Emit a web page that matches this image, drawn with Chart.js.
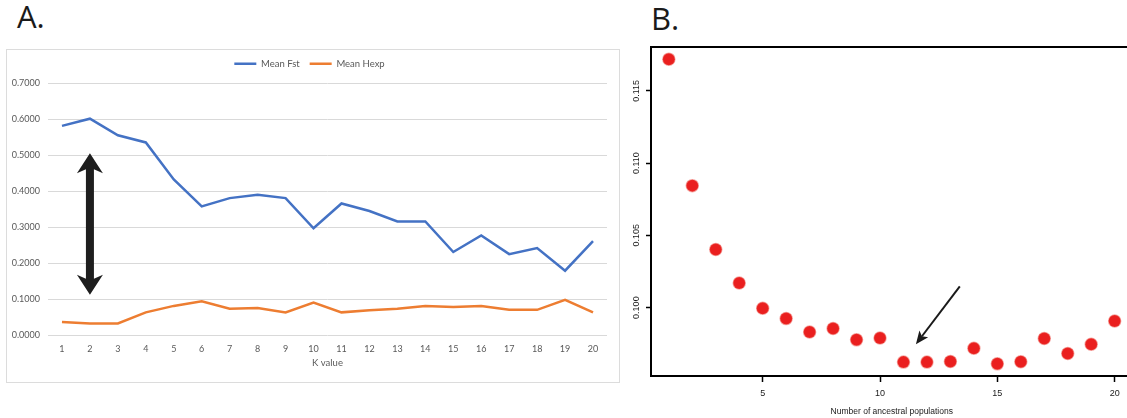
<!DOCTYPE html>
<html>
<head>
<meta charset="utf-8">
<script src="https://cdn.jsdelivr.net/npm/chart.js@4"></script>
<style>
    html, body { margin: 0; padding: 0; background: #fff; width: 1127px; height: 418px; overflow: hidden; }
    .panel-label { position: absolute; font-family: "Open Sans", sans-serif; font-size: 31px; line-height: 1; color: #1a1a1a; }
    #frameA { position: absolute; left: 6px; top: 49px; width: 614px; height: 334px; border: 1px solid #dcdcdc; box-sizing: border-box; }
    #chartA { position: absolute; left: 6px; top: 49px; }
    #chartB { position: absolute; left: 620px; top: 0; }
</style>
</head>
<body>
<div class="panel-label" style="left:17px; top:1px;">A.</div>
<div class="panel-label" style="left:651px; top:3px;">B.</div>
<div id="frameA"></div>
<canvas id="chartA" width="601" height="334"></canvas>
<canvas id="chartB" width="520" height="418"></canvas>

<script>
// Panel A: mean Fst / mean Hexp by K
const kValues = ['1', '2', '3', '4', '5', '6', '7', '8', '9', '10', '11', '12', '13', '14', '15', '16', '17', '18', '19', '20'];
const meanFst = [0.582, 0.602, 0.556, 0.536, 0.433, 0.358, 0.381, 0.390, 0.381, 0.297, 0.366, 0.345, 0.316, 0.316, 0.231, 0.277, 0.225, 0.242, 0.179, 0.261];
const meanHexp = [0.036, 0.032, 0.032, 0.063, 0.081, 0.094, 0.073, 0.075, 0.063, 0.090, 0.063, 0.069, 0.073, 0.081, 0.078, 0.081, 0.070, 0.070, 0.098, 0.063];
const yTicksA = [0, 0.1, 0.2, 0.3, 0.4, 0.5, 0.6, 0.7];
// double arrow drawn at K = 2, between these values
const arrowA = { k: '2', top: 0.506, bottom: 0.112 };

// Panel B: cross-entropy by number of ancestral populations
const populations = [1, 2, 3, 4, 5, 6, 7, 8, 9, 10, 11, 12, 13, 14, 15, 16, 17, 18, 19, 20];
const crossEntropy = [0.11719, 0.10844, 0.10402, 0.10170, 0.09995, 0.09924, 0.09832, 0.09855, 0.09777, 0.09790,
                      0.09623, 0.09623, 0.09628, 0.09719, 0.09611, 0.09625, 0.09786, 0.09683, 0.09747, 0.09908];
const xTicksB = [5, 10, 15, 20];
const yTicksB = [0.100, 0.105, 0.110, 0.115];
// single arrow pointing at K = 11
const arrowB = { fromX: 13.4, fromY: 0.10147, toX: 11.53, toY: 0.09747 };

const excelFont = 'Lato, "Open Sans", sans-serif';
const rFont = '"Liberation Sans", Arial, sans-serif';

// legend sits a little higher above the plot than Chart.js puts it
const legendSpace = {
    id: 'legendSpace',
    beforeInit(chart) {
        if (!chart.legend) return;
        const fit = chart.legend.fit;
        chart.legend.fit = function () {
            fit.call(this);
            this.height += 5;
        };
    }
};

const doubleArrow = {
    id: 'doubleArrow',
    afterDatasetsDraw(chart) {
        const { ctx, scales: { x, y } } = chart;
        const cx = x.getPixelForValue(kValues.indexOf(arrowA.k));
        const t = y.getPixelForValue(arrowA.top);
        const b = y.getPixelForValue(arrowA.bottom);
        ctx.save();
        ctx.fillStyle = '#1e1e1e';
        ctx.beginPath();
        ctx.moveTo(cx, t);
        ctx.lineTo(cx + 13, t + 20);
        ctx.lineTo(cx + 4, t + 16);
        ctx.lineTo(cx + 4, b - 16);
        ctx.lineTo(cx + 13, b - 20);
        ctx.lineTo(cx, b);
        ctx.lineTo(cx - 13, b - 20);
        ctx.lineTo(cx - 4, b - 16);
        ctx.lineTo(cx - 4, t + 16);
        ctx.lineTo(cx - 13, t + 20);
        ctx.closePath();
        ctx.fill();
        ctx.restore();
    }
};

new Chart(document.getElementById('chartA'), {
    type: 'line',
    data: {
        labels: kValues,
        datasets: [
            { label: 'Mean Fst', data: meanFst, borderColor: '#4472c4', backgroundColor: '#4472c4', borderWidth: 2.5, pointRadius: 0, tension: 0 },
            { label: 'Mean Hexp', data: meanHexp, borderColor: '#ed7d31', backgroundColor: '#ed7d31', borderWidth: 2.5, pointRadius: 0, tension: 0 }
        ]
    },
    options: {
        responsive: false,
        animation: false,
        layout: { padding: { top: 0, left: 6, right: 0, bottom: 0 } },
        plugins: {
            legend: {
                labels: {
                    usePointStyle: true,
                    pointStyle: 'line',
                    pointStyleWidth: 22,
                    padding: 10,
                    color: '#595959',
                    font: { family: excelFont, size: 9.5 }
                }
            },
            tooltip: { enabled: false }
        },
        scales: {
            x: {
                offset: true,
                grid: { display: false },
                border: { display: false },
                ticks: { color: '#595959', font: { family: excelFont, size: 9 }, padding: 1 },
                title: { display: true, text: 'K value', color: '#595959', font: { family: excelFont, size: 9.5 }, padding: { top: 0, bottom: 14 } },
                afterFit: s => { s.height = 48; }
            },
            y: {
                min: 0,
                max: 0.7,
                afterBuildTicks: s => { s.ticks = yTicksA.map(v => ({ value: v })); },
                ticks: { color: '#595959', font: { family: excelFont, size: 9 }, padding: 8, callback: v => v.toFixed(4) },
                grid: { color: '#d9d9d9', drawTicks: false },
                border: { display: false },
                afterFit: s => { s.width = 36; }
            }
        }
    },
    plugins: [legendSpace, doubleArrow]
});

const plotFrame = {
    id: 'plotFrame',
    afterDraw(chart) {
        const { ctx, chartArea: a } = chart;
        ctx.save();
        ctx.strokeStyle = '#000';
        ctx.lineWidth = 2;
        ctx.strokeRect(a.left, a.top, a.right - a.left, a.bottom - a.top);
        ctx.restore();
    }
};

const pointerArrow = {
    id: 'pointerArrow',
    afterDatasetsDraw(chart) {
        const { ctx, scales: { x, y } } = chart;
        const x0 = x.getPixelForValue(arrowB.fromX), y0 = y.getPixelForValue(arrowB.fromY);
        const x1 = x.getPixelForValue(arrowB.toX), y1 = y.getPixelForValue(arrowB.toY);
        const ang = Math.atan2(y1 - y0, x1 - x0);
        const len = 13, half = 5.5;
        const bx = x1 - Math.cos(ang) * len, by = y1 - Math.sin(ang) * len;
        ctx.save();
        ctx.strokeStyle = '#1a1a1a';
        ctx.fillStyle = '#1a1a1a';
        ctx.lineWidth = 2;
        ctx.beginPath();
        ctx.moveTo(x0, y0);
        ctx.lineTo(bx + Math.cos(ang) * 3, by + Math.sin(ang) * 3);
        ctx.stroke();
        ctx.beginPath();
        ctx.moveTo(x1, y1);
        ctx.lineTo(bx - Math.sin(ang) * half, by + Math.cos(ang) * half);
        ctx.lineTo(bx + Math.cos(ang) * 3, by + Math.sin(ang) * 3);
        ctx.lineTo(bx + Math.sin(ang) * half, by - Math.cos(ang) * half);
        ctx.closePath();
        ctx.fill();
        ctx.restore();
    }
};

new Chart(document.getElementById('chartB'), {
    type: 'scatter',
    data: {
        datasets: [{
            data: populations.map((p, i) => ({ x: p, y: crossEntropy[i] })),
            backgroundColor: '#ea1f1f',
            borderColor: 'rgba(234, 60, 50, 0.45)',
            borderWidth: 1.5,
            pointRadius: 6,
            pointHoverRadius: 6
        }]
    },
    options: {
        responsive: false,
        animation: false,
        layout: { padding: { top: 47, right: 5, left: 0, bottom: 0 } },
        plugins: { legend: { display: false }, tooltip: { enabled: false } },
        scales: {
            x: {
                type: 'linear',
                min: 0.24,
                max: 20.76,
                afterBuildTicks: s => { s.ticks = xTicksB.map(v => ({ value: v })); },
                ticks: { color: '#1a1a1a', font: { family: rFont, size: 9 }, padding: 6, callback: v => String(v) },
                grid: { drawOnChartArea: false, drawTicks: true, tickLength: 6, tickColor: '#000', tickWidth: 1.5 },
                border: { display: true, color: '#000', width: 2 },
                title: { display: true, text: 'Number of ancestral populations', color: '#1a1a1a', font: { family: rFont, size: 8.5 }, padding: { top: 0, bottom: 1 } },
                afterFit: s => { s.height = 42; }
            },
            y: {
                min: 0.09527,
                max: 0.11803,
                afterBuildTicks: s => { s.ticks = yTicksB.map(v => ({ value: v })); },
                ticks: { color: '#1a1a1a', font: { family: rFont, size: 9 }, padding: -2, minRotation: 90, maxRotation: 90, crossAlign: 'center', callback: v => v.toFixed(3) },
                grid: { drawOnChartArea: false, drawTicks: true, tickLength: 5, tickColor: '#000', tickWidth: 1.5 },
                border: { display: true, color: '#000', width: 2 },
                afterFit: s => { s.width = 31; }
            }
        }
    },
    plugins: [plotFrame, pointerArrow]
});
</script>
</body>
</html>
